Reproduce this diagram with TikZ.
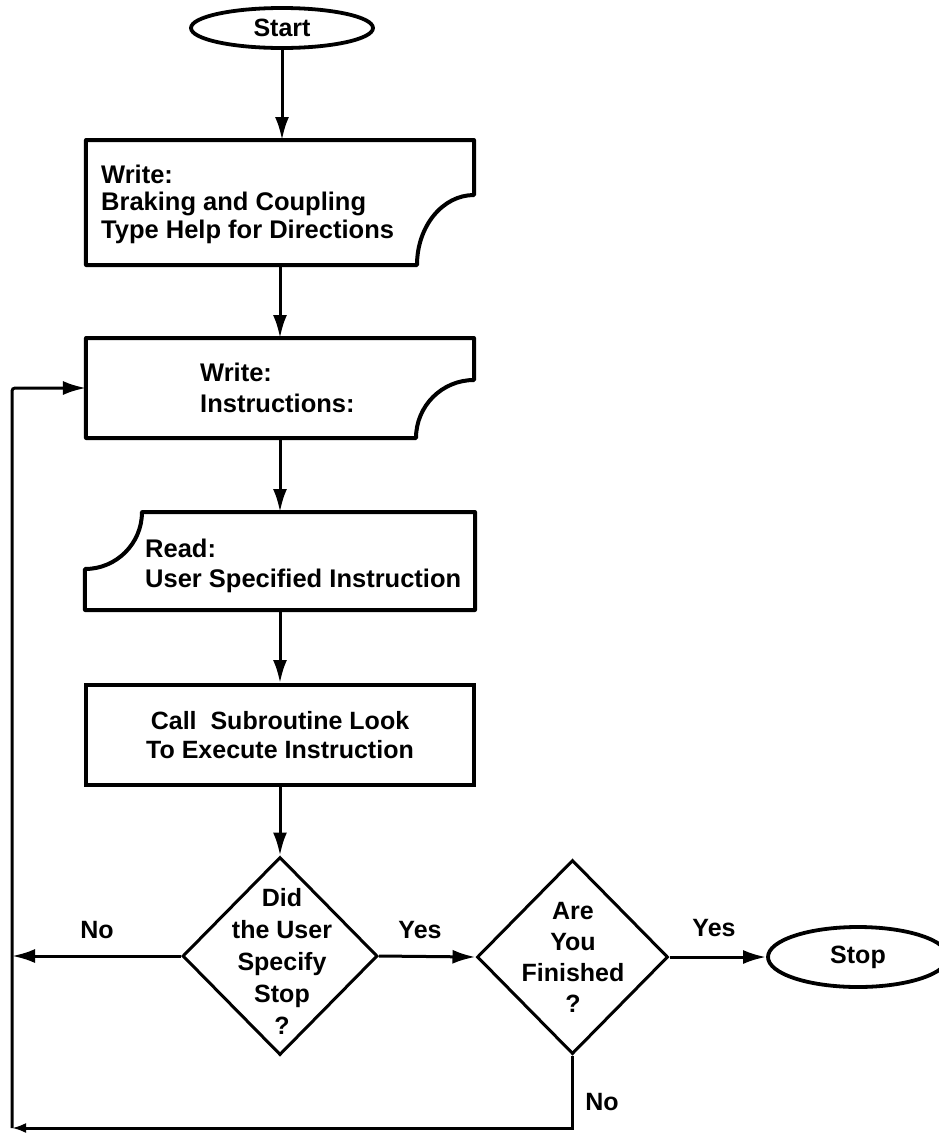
\documentclass[tikz,border=0pt]{standalone}
\usepackage{fontspec}
\setmainfont{Liberation Sans}
\usetikzlibrary{shapes.geometric,arrows.meta,calc}
\begin{document}
\begin{tikzpicture}[x=1bp,y=-1bp,
  txt/.style={font=\bfseries\fontsize{25bp}{28bp}\selectfont, inner sep=0pt},
  outline/.style={line width=4bp, line join=round},
  arr/.style={line width=3bp, -{Latex[length=23bp,width=14bp]}},
  arrsmall/.style={line width=3bp, -{Latex[length=14bp,width=10bp]}},
  term/.style={ellipse, draw, line width=3.8bp, inner sep=0pt, txt},
  dec/.style={diamond, draw, line width=3bp, inner sep=0pt},
  holder/.style={inner sep=0pt, outer sep=0pt}]
\useasboundingbox (0,0) rectangle (939,1133);

% terminals
\node[term, minimum width=182bp, minimum height=40bp] (start) at (282,28) {Start};

% box 1 (document / output)
\node[holder, minimum width=388bp, minimum height=125bp] (w1) at (280,202.5) {};
\draw[outline] (w1.north west) -- (w1.north east) -- ($(w1.south east)+(0,-70)$)
  arc[start angle=90, end angle=180, x radius=57bp, y radius=70bp] -- (w1.south west) -- cycle;
\node[txt, align=left, anchor=west, font=\bfseries\fontsize{25.5bp}{27.5bp}\selectfont] (w1t) at (101,204)
  {Write:\\Braking and Coupling\\Type\ Help\ for\ Directions};

% box 2
\node[holder, minimum width=388bp, minimum height=100bp] (w2) at (280,388) {};
\draw[outline] (w2.north west) -- (w2.north east) -- ($(w2.south east)+(0,-58)$)
  arc[start angle=90, end angle=180, radius=58bp] -- (w2.south west) -- cycle;
\node[txt, align=left, anchor=west, font=\bfseries\fontsize{25.5bp}{31bp}\selectfont] (w2t) at (200,388)
  {Write:\\Instructions:};

% box 3 (read)
\node[holder, minimum width=390bp, minimum height=98bp] (r3) at (280,561) {};
\draw[outline] ($(r3.north west)+(57,0)$) -- (r3.north east) -- (r3.south east) -- (r3.south west)
  -- ($(r3.north west)+(0,57)$) arc[start angle=-90, end angle=0, radius=57bp] -- cycle;
\node[txt, align=left, anchor=west, font=\bfseries\fontsize{25.5bp}{30bp}\selectfont] (r3t) at (145,566)
  {Read:\\User Specified Instruction};

% box 4 (process)
\node[draw, line width=4bp, minimum width=388bp, minimum height=100bp, align=center,
  txt, font=\bfseries\fontsize{25bp}{29bp}\selectfont] (c4) at (280,735)
  {Call\ \ Subroutine Look\\To Execute Instruction};

% decisions
\node[dec, minimum width=195bp, minimum height=198bp] (d1) at (280,956) {};
\node[txt, align=center, font=\bfseries\fontsize{25bp}{32bp}\selectfont] (d1t) at (282,961)
  {Did\\the User\\Specify\\Stop\\?};
\node[dec, minimum width=191bp, minimum height=194bp] (d2) at (572.5,957) {};
\node[txt, align=center, font=\bfseries\fontsize{25bp}{31bp}\selectfont] (d2t) at (573,957)
  {Are\\You\\Finished\\?};

\node[term, minimum width=180bp, minimum height=60bp] (stop) at (858,957) {Stop};

% loop coordinates
\coordinate (lt) at (12,388);
\coordinate (lb) at (12,1128);

% connectors
\draw[arr] (start.south) -- (start.south |- w1.north);
\draw[arr] (w1.south) -- (w2.north);
\draw[arr] (w2.south) -- (r3.north);
\draw[arr] (r3.south) -- (c4.north);
\draw[arr] (c4.south) -- (d1.north);
\draw[arr] (d1.east) -- (d2.west);
\draw[arr] (d2.east) -- (stop.west);
\draw[arr] (d1.west) -- (d1.west -| lt);
\draw[arrsmall] (d2.south) -- (d2.south |- lb) -- (lb);
\draw[arr, rounded corners=3bp] (lb) -- (lt) -- (w2.west);

% labels
\node[txt] (no1) at (97,930) {No};
\node[txt] (yes1) at (420,930) {Yes};
\node[txt] (yes2) at (714,928) {Yes};
\node[txt] (no2) at (602,1102) {No};
\end{tikzpicture}
\end{document}
